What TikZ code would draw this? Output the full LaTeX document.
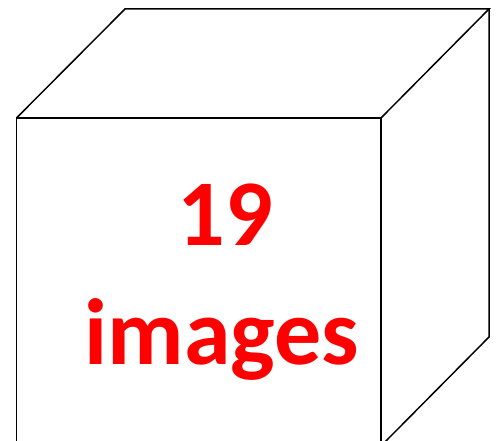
\documentclass[tikz,border=0pt]{standalone}
\usepackage{fontspec}
\setmainfont{Carlito}
\usepackage{xcolor}
\usetikzlibrary{positioning}
\definecolor{labelred}{RGB}{255,0,0}

\begin{document}
\begin{tikzpicture}[x=1pt, y=1pt, line width=1.5pt, line join=miter,
    cubelabel/.style={text=labelred, font=\fontsize{94}{112}\selectfont\bfseries, inner sep=0pt, anchor=base}]
      \useasboundingbox (0,0) rectangle (500,441);
      \clip (0,0) rectangle (500,441);
      % Front face corners
      \coordinate (fbl) at (16.5,-5);
      \coordinate (ftl) at (16.5,323);
      \coordinate (ftr) at (381,323);
      \coordinate (fbr) at (381,-5);
      % Back corners
      \coordinate (btl) at (125,432);
      \coordinate (btr) at (489,432);
      \coordinate (bbr) at (489,104);
      % Front face
      \draw (fbl) -- (ftl) -- (ftr) -- (fbr);
      % Top face
      \draw (ftl) -- (btl) -- (btr) -- (ftr);
      % Side face
      \draw (btr) -- (bbr) -- (fbr);
      % Label
      \node[cubelabel] (count) at (225,195) {19};
      \node[cubelabel] (word) at (222,76) {images};
\end{tikzpicture}
\end{document}
